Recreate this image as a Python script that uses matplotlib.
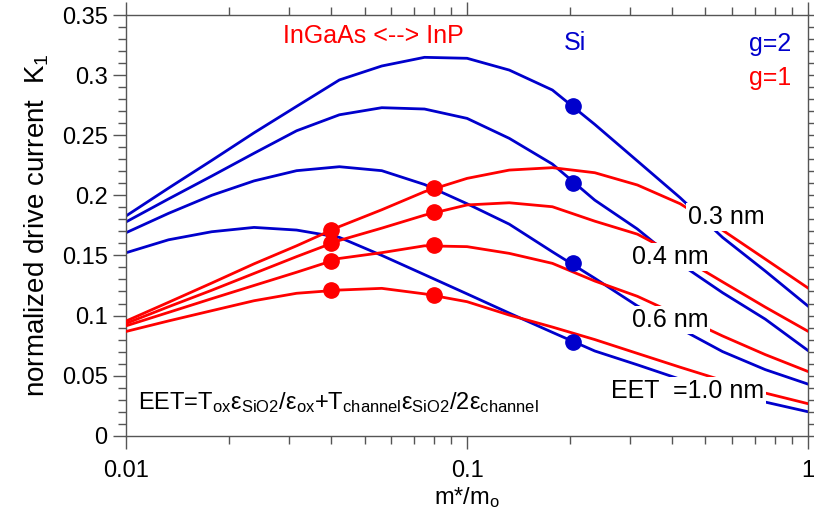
import numpy as np
import matplotlib
matplotlib.use('Agg')
import matplotlib.pyplot as plt
from matplotlib.ticker import LogLocator, MultipleLocator, FixedLocator, FixedFormatter

plt.rcParams['font.family'] = ['Liberation Sans', 'DejaVu Sans']
plt.rcParams['mathtext.fontset'] = 'custom'
plt.rcParams['mathtext.rm'] = 'Liberation Sans'
plt.rcParams['mathtext.it'] = 'Liberation Sans:italic'

# effective mass grid (m*/mo)
mass = [0.01, 0.0133, 0.0178, 0.0237, 0.0316, 0.0422, 0.0562, 0.075, 0.1,
        0.133, 0.178, 0.237, 0.316, 0.422, 0.562, 0.75, 1.0]

# g=2 (blue), EET = 0.3, 0.4, 0.6, 1.0 nm
k_g2_03 = [0.183, 0.206, 0.229, 0.252, 0.274, 0.296, 0.3076, 0.3148, 0.314, 0.3042,
           0.2876, 0.259, 0.2286, 0.198, 0.165, 0.137, 0.108]
k_g2_04 = [0.178, 0.197, 0.216, 0.235, 0.2537, 0.267, 0.2729, 0.2718, 0.264, 0.2474,
           0.226, 0.196, 0.172, 0.143, 0.119, 0.097, 0.071]
k_g2_06 = [0.169, 0.185, 0.200, 0.212, 0.2205, 0.2238, 0.2205, 0.209, 0.193, 0.176,
           0.153, 0.131, 0.108, 0.089, 0.070, 0.055, 0.043]
k_g2_10 = [0.1523, 0.163, 0.1697, 0.1733, 0.1711, 0.165, 0.150, 0.134, 0.118, 0.102,
           0.086, 0.0705, 0.059, 0.047, 0.038, 0.028, 0.020]

# g=1 (red)
k_g1_03 = [0.0955, 0.111, 0.127, 0.143, 0.158, 0.174, 0.188, 0.203, 0.2141, 0.221,
           0.223, 0.2188, 0.2086, 0.193, 0.171, 0.147, 0.123]
k_g1_04 = [0.0935, 0.1073, 0.121, 0.135, 0.149, 0.1625, 0.1727, 0.1835, 0.192, 0.1938,
           0.1905, 0.1785, 0.1677, 0.149, 0.128, 0.107, 0.087]
k_g1_06 = [0.0915, 0.1026, 0.114, 0.125, 0.136, 0.1475, 0.1523, 0.158, 0.1573, 0.1517,
           0.1434, 0.1287, 0.116, 0.0996, 0.083, 0.0675, 0.0535]
k_g1_10 = [0.0868, 0.0955, 0.104, 0.1123, 0.1185, 0.1212, 0.1226, 0.118, 0.1115, 0.1004,
           0.0904, 0.080, 0.0685, 0.057, 0.046, 0.0355, 0.0267]

# material points
si_mass = [0.205]
si_k = [0.274, 0.2105, 0.1434, 0.0782]
iii_v_mass = [0.04, 0.08]   # InGaAs, InP
iii_v_k = [[0.171, 0.206], [0.160, 0.186], [0.145, 0.159], [0.121, 0.117]]

eet_labels = ['0.3 nm', '0.4 nm', '0.6 nm', 'EET  =1.0 nm']

blue = '#0000CC'
red = '#FF0000'

fig = plt.figure(figsize=(8.14, 5.27), dpi=100)
ax = fig.add_axes([0.1552, 0.1732, 0.8372, 0.7983])

for k in [k_g2_03, k_g2_04, k_g2_06, k_g2_10]:
    ax.plot(mass, k, color=blue, lw=2.0, zorder=2)
for k in [k_g1_03, k_g1_04, k_g1_06, k_g1_10]:
    ax.plot(mass, k, color=red, lw=2.0, zorder=3)
for k in iii_v_k:
    ax.plot(iii_v_mass, k, 'o', color=red, ms=11, zorder=4)
for k in si_k:
    ax.plot(si_mass, [k], 'o', color=blue, ms=11, zorder=5)

ax.set_xscale('log')
ax.set_xlim(0.01, 1)
ax.set_ylim(0, 0.35)

ax.xaxis.set_major_locator(FixedLocator([0.01, 0.1, 1]))
ax.xaxis.set_major_formatter(FixedFormatter(['0.01', '0.1', '1']))
ax.xaxis.set_minor_locator(LogLocator(base=10, subs=np.arange(2, 10)))
ax.xaxis.set_minor_formatter(FixedFormatter([]))
ax.set_yticks([0, 0.05, 0.1, 0.15, 0.2, 0.25, 0.3, 0.35])
ax.set_yticklabels(['0', '0.05', '0.1', '0.15', '0.2', '0.25', '0.3', '0.35'])
ax.yaxis.set_minor_locator(MultipleLocator(0.01))

ax.tick_params(which='both', direction='out', top=True, right=True,
               color='#555555', labelsize=17)
ax.tick_params(which='major', length=9.5, width=1.0)
ax.tick_params(which='minor', length=6, width=1.0)
ax.tick_params(axis='x', which='major', pad=8)
ax.tick_params(axis='y', which='major', pad=4)
for s in ax.spines.values():
    s.set_color('#555555')
    s.set_linewidth(1.0)

ax.set_xlabel(r'm*/m$_{\mathrm{o}}$', fontsize=17, labelpad=2)
ax.set_ylabel(r'normalized drive current  K$_{\mathrm{1}}$', fontsize=20, labelpad=8)

ax.text(0.2304, 0.950, 'InGaAs <--> InP', color=red, fontsize=18,
        transform=ax.transAxes, ha='left', va='center')
ax.text(0.6423, 0.934, 'Si', color=blue, fontsize=18,
        transform=ax.transAxes, ha='left', va='center')
ax.text(0.9753, 0.931, 'g=2', color=blue, fontsize=18,
        transform=ax.transAxes, ha='right', va='center')
ax.text(0.9753, 0.850, 'g=1', color=red, fontsize=18,
        transform=ax.transAxes, ha='right', va='center')

# thickness labels sit on white boxes that break the curves
label_pos = [(0.8242, 0.5206), (0.7416, 0.4255), (0.7416, 0.275), (0.711, 0.107)]
for txt, (lx, ly) in zip(eet_labels, label_pos):
    ax.text(lx, ly, txt, fontsize=18, transform=ax.transAxes, ha='left', va='center',
            zorder=10, bbox=dict(facecolor='white', edgecolor='none', pad=1.5))

ax.text(0.0172, 0.0777,
        r'EET=T$_{\mathrm{ox}}$ε$_{\mathrm{SiO2}}$/ε$_{\mathrm{ox}}$+T$_{\mathrm{channel}}$'
        r'ε$_{\mathrm{SiO2}}$/2ε$_{\mathrm{channel}}$',
        fontsize=17, transform=ax.transAxes, ha='left', va='center', zorder=10)

fig.savefig('out.png', dpi=100)
